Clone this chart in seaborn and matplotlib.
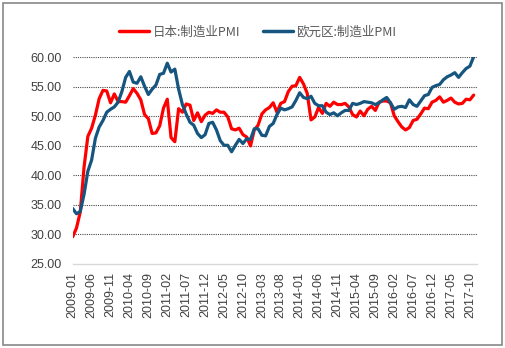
import numpy as np
import pandas as pd
import matplotlib
matplotlib.use("Agg")
import matplotlib.pyplot as plt
import seaborn as sns
from matplotlib.patches import Rectangle

months = pd.date_range("2009-01-01", "2017-11-01", freq="MS").strftime("%Y-%m").tolist()

japan_pmi = [
    29.6, 31.1, 33.8, 41.4, 46.6, 48.0, 50.2, 53.0, 54.4, 54.3, 52.3, 53.8,
    52.5, 52.5, 52.4, 53.5, 54.7, 53.9, 52.8, 50.3, 49.6, 47.1, 47.2, 48.4,
    51.4, 52.9, 46.4, 45.7, 51.3, 50.7, 52.1, 51.9, 49.3, 50.6, 49.1, 50.2,
    50.7, 50.5, 51.1, 50.7, 50.7, 49.9, 47.9, 47.7, 48.0, 46.9, 46.5, 45.0,
    47.7, 48.5, 50.4, 51.1, 51.5, 52.3, 50.7, 52.2, 52.5, 54.2, 55.1, 55.2,
    56.6, 55.5, 53.9, 49.4, 49.9, 51.5, 50.5, 52.2, 51.7, 52.4, 52.0, 52.0,
    52.2, 51.6, 50.3, 49.9, 50.9, 50.1, 51.2, 51.7, 51.0, 52.4, 52.6, 52.6,
    52.3, 50.1, 49.1, 48.2, 47.7, 48.1, 49.3, 49.5, 50.4, 51.4, 51.3, 52.4,
    52.7, 53.3, 52.4, 52.7, 53.1, 52.4, 52.1, 52.2, 52.9, 52.8, 53.6,
]

euro_pmi = [
    34.4, 33.5, 33.9, 36.8, 40.7, 42.6, 46.3, 48.2, 49.3, 50.7, 51.2, 51.6,
    52.4, 54.2, 56.6, 57.6, 55.8, 55.6, 56.7, 55.1, 53.7, 54.6, 55.3, 57.1,
    57.3, 59.0, 57.5, 58.0, 54.6, 52.0, 50.4, 49.0, 48.5, 47.1, 46.4, 46.9,
    48.8, 49.0, 47.7, 45.9, 45.1, 45.1, 44.0, 45.1, 46.1, 45.4, 46.2, 46.1,
    47.9, 47.9, 46.8, 46.7, 48.3, 48.8, 50.3, 51.4, 51.1, 51.3, 51.6, 52.7,
    54.0, 53.2, 53.0, 53.4, 52.2, 51.8, 51.8, 50.7, 50.3, 50.6, 50.1, 50.6,
    51.0, 51.0, 52.2, 52.0, 52.2, 52.5, 52.4, 52.3, 52.0, 52.3, 52.8, 53.2,
    52.3, 51.2, 51.6, 51.7, 51.5, 52.8, 52.0, 51.7, 52.6, 53.5, 53.7, 54.9,
    55.2, 55.4, 56.2, 56.7, 57.0, 57.4, 56.6, 57.4, 58.1, 58.5, 60.1,
]

series_names = ["日本:制造业PMI", "欧元区:制造业PMI"]
colors = ["#FF0000", "#15557F"]
y_ticks = [25, 30, 35, 40, 45, 50, 55, 60]

n = len(months)
df = pd.DataFrame({
    "idx": list(range(n)) * 2,
    "value": japan_pmi + euro_pmi,
    "series": [series_names[0]] * n + [series_names[1]] * n,
})

sns.set_theme(style="white")
plt.rcParams["font.family"] = ["Liberation Sans", "DejaVu Sans"]

fig = plt.figure(figsize=(5.05, 3.48), dpi=100)
ax = fig.add_axes([72.7 / 505, 84 / 348, 404 / 505, 206.7 / 348])

sns.lineplot(data=df, x="idx", y="value", hue="series", palette=colors,
             hue_order=series_names, linewidth=2.3, ax=ax, legend=False)

ax.set_xlim(0, 106.8)
ax.set_ylim(25, 60)
ax.set_yticks(y_ticks)
ax.set_yticklabels([f"{v:.2f}" for v in y_ticks], fontsize=9, color="#404040")
tick_pos = list(range(0, n, 5))
ax.set_xticks(tick_pos)
ax.set_xticklabels([months[i] for i in tick_pos], rotation=90, fontsize=9,
                   color="#404040")
ax.tick_params(axis="y", length=0, pad=8)
ax.tick_params(axis="x", length=3, color="#d0d0d0", width=1, pad=3)
ax.set_xlabel("")
ax.set_ylabel("")

for s in ["top", "right", "left"]:
    ax.spines[s].set_visible(False)
ax.spines["bottom"].set_color("#d9d9d9")
ax.spines["bottom"].set_linewidth(1)

for v in y_ticks[1:]:
    ax.axhline(v, color="#4a4a4a", lw=0.8, ls=(0, (1, 1)), zorder=0)

from matplotlib.lines import Line2D
handles = [Line2D([0], [0], color=c, lw=2.5) for c in colors]
fig.legend(handles, series_names, loc="center", bbox_to_anchor=(0.51, 0.908),
           ncol=2, frameon=False, handlelength=2.4, handletextpad=0.3,
           columnspacing=1.8,
           prop={"family": ["Noto Sans CJK SC", "DejaVu Sans"], "size": 9},
           labelcolor="#595959")

fig.patches.append(Rectangle((3 / 505, 3 / 348), 499 / 505, 342 / 348,
                             transform=fig.transFigure, fill=False,
                             edgecolor="#888888", lw=1.2))

fig.savefig("out.png", dpi=100)
